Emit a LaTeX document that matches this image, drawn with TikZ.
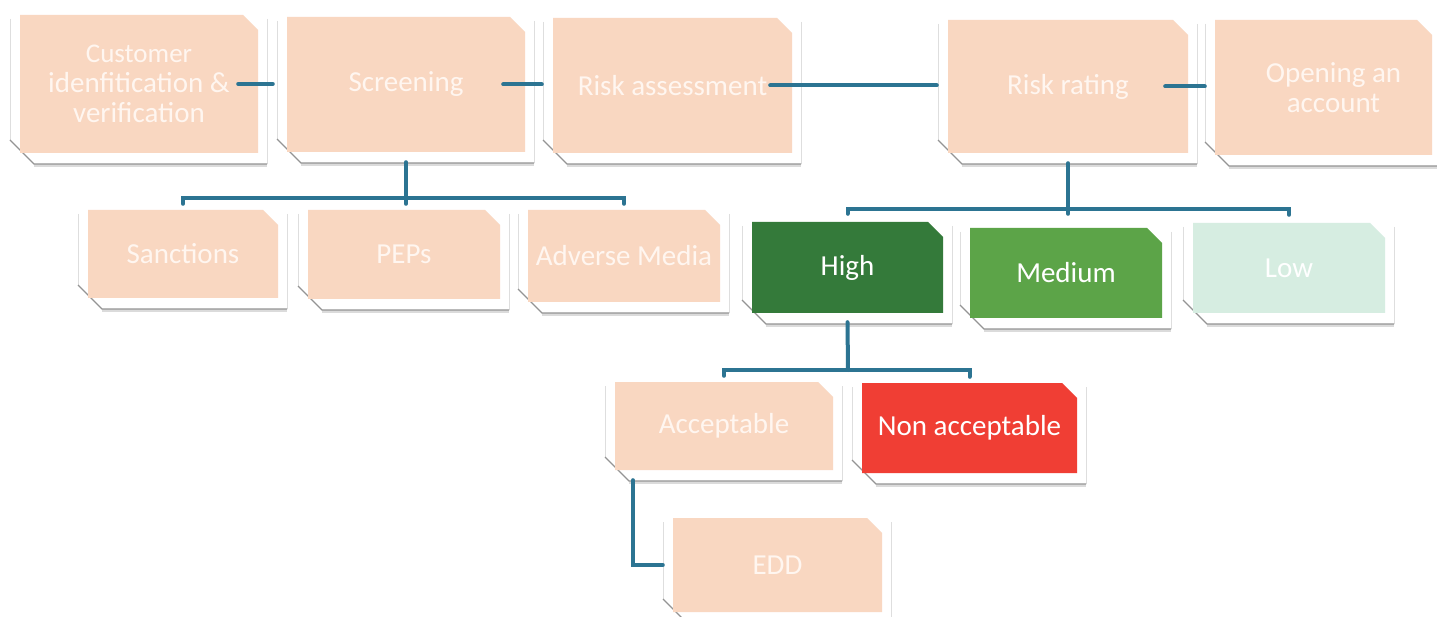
\documentclass[tikz,border=0pt]{standalone}
\usepackage{fontspec}
\setmainfont{Carlito}
\usetikzlibrary{calc}
\definecolor{peach}{RGB}{249,215,193}
\definecolor{peachtext}{RGB}{255,246,240}
\definecolor{hgreen}{RGB}{52,122,58}
\definecolor{mgreen}{RGB}{92,164,72}
\definecolor{lmint}{RGB}{214,237,225}
\definecolor{nred}{RGB}{240,62,52}
\definecolor{conn}{RGB}{44,116,146}
\tikzset{
  boxnode/.style={rectangle, inner sep=0pt, align=center, text=white, font=\fontsize{29}{30}\selectfont},
  link/.style={draw=conn, line width=4pt, line cap=round},
  sideline/.style={draw=black!13, line width=0.9pt},
  shadowline/.style={draw=black!42, line width=1.3pt},
  softshadow/.style={draw=black!14, line width=3pt},
}
\newcommand{\mkbox}[8]{%
  \draw[softshadow] ({#2-10+24},{#5+11+1.5}) -- ({#4+9},{#5+11+1.5});
  \fill[white] ({#2-10},{#3-3}) -- ({#4+9},{#3-3}) -- ({#4+9},{#5+11}) -- ({#2-10+24},{#5+11}) -- ({#2-10},{#5+11-24}) -- cycle;
  \draw[sideline] ({#2-10},{#3+4}) -- ({#2-10},{#5+11-24});
  \draw[sideline] ({#4+9},{#3+4}) -- ({#4+9},{#5+11});
  \draw[shadowline] ({#2-10},{#5+11-24}) -- ({#2-10+24},{#5+11}) -- ({#4+9},{#5+11});
  \fill[#6] (#2,#3) -- ({#4-15},#3) -- (#4,{#3+15}) -- (#4,#5) -- (#2,#5) -- cycle;
  \node[boxnode, text=#7, minimum width={(#4-#2)*1pt}, minimum height={(#5-#3)*1pt}] (#1) at ({(#2+#4)/2},{(#3+#5)/2}) {#8};
}
\begin{document}
\begin{tikzpicture}[x=1pt,y=-1pt]
\useasboundingbox[fill=white] (0,0) rectangle (1437,617);
\clip (0,0) rectangle (1437,617);
% top row
\mkbox{cust}{20}{15}{258}{153}{peach}{peachtext}{\fontsize{27}{27.5}\selectfont Customer\\idenfitication \&\\verification}
\mkbox{scr}{287}{17}{525}{152}{peach}{peachtext}{Screening}
\mkbox{ra}{553}{18}{792}{153}{peach}{peachtext}{Risk assessment}
\mkbox{rr}{948}{20}{1188}{153}{peach}{peachtext}{Risk rating}
\mkbox{open}{1215}{20}{1432}{155}{peach}{peachtext}{\fontsize{29}{28}\selectfont\hspace*{20pt}Opening an\\\hspace*{20pt}account}
% screening children
\mkbox{sanc}{88}{210}{278}{298}{peach}{peachtext}{Sanctions}
\mkbox{pep}{308}{210}{500}{299}{peach}{peachtext}{PEPs}
\mkbox{adv}{528}{210}{720}{302}{peach}{peachtext}{Adverse Media}
% rating children
\mkbox{high}{752}{222}{943}{313}{hgreen}{white}{High}
\mkbox{med}{970}{228}{1162}{318}{mgreen}{white}{Medium}
\mkbox{low}{1193}{223}{1385}{313}{lmint}{white}{Low}
% high children
\mkbox{acc}{615}{382}{833}{470}{peach}{peachtext}{Acceptable}
\mkbox{non}{862}{383}{1077}{473}{nred}{white}{Non acceptable}
\mkbox{edd}{673}{518}{882}{612}{peach}{peachtext}{EDD}
% connectors
\draw[link] ([xshift=-20pt]cust.east) -- ($(cust.east -| scr.west)+(-14,0)$);
\draw[link] ([xshift=-22pt]scr.east) -- ($(scr.east -| ra.west)+(-11,0)$);
\draw[link] ([xshift=-22pt]ra.east) -- ($(ra.east -| rr.west)+(-11,0)$);
\draw[link] ([xshift=-23pt]rr.east) -- ($(rr.east -| open.west)+(-10,0)$);
\coordinate (sbar) at (405,198);
\draw[link] ([yshift=-10pt]scr.south) -- ($(scr.south |- pep.north)+(0,-6)$);
\draw[link] ($(sanc.north)+(0,-6)$) |- (sbar) -| ($(adv.north)+(0,-6)$);
\coordinate (rbar) at (1067,209);
\draw[link] ([yshift=-10pt]rr.south) -- ($(rr.south |- med.north)+(0,-14)$);
\draw[link] ($(high.north)+(0,-8)$) |- (rbar) -| ($(low.north)+(0,-8)$);
\coordinate (hbar) at (848,370);
\draw[link] ([yshift=-9pt]high.south) -- (hbar);
\draw[link] ($(acc.north)+(0,-6)$) |- (hbar) -| ($(non.north)+(0,-6)$);
\draw[link] ($(acc.south west)+(18,10)$) |- ($(edd.west)+(-10,0)$);
\end{tikzpicture}
\end{document}
